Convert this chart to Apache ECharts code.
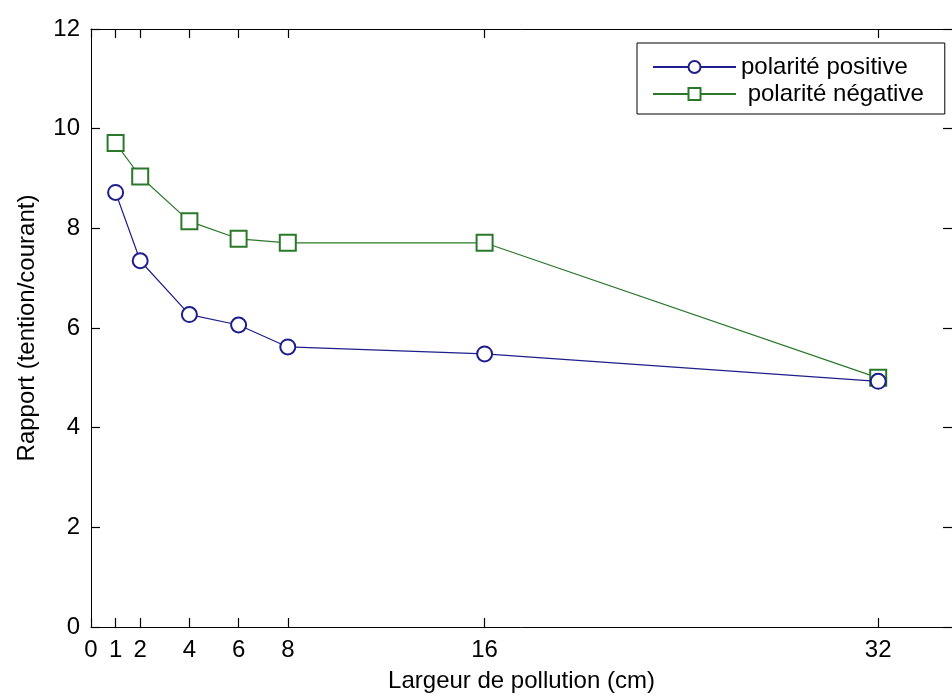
<!DOCTYPE html>
<html>
<head>
<meta charset="utf-8">
<script src="https://cdn.jsdelivr.net/npm/echarts@6/dist/echarts.min.js"></script>
<style>html,body{margin:0;padding:0;background:#fff;}#c{width:952px;height:698px;}</style>
</head>
<body>
<div id="c"></div>
<script>
const xValues = [1, 2, 4, 6, 8, 16, 32];
const positive = [8.72, 7.35, 6.27, 6.06, 5.62, 5.48, 4.93];
const negative = [9.71, 9.04, 8.14, 7.79, 7.71, 7.71, 5.0];
const xTicks = [0, 1, 2, 4, 6, 8, 16, 32];
const seriesNames = ['polarité positive', ' polarité négative'];
const xTitle = 'Largeur de pollution (cm)';
const yTitle = 'Rapport (tention/courant)';

const font = 'Liberation Sans, Arial, sans-serif';
const chart = echarts.init(document.getElementById('c'), null, {renderer: 'canvas'});
function axisLine() { return {show: true, onZero: false, lineStyle: {color: '#000', width: 1}}; }
function tick(custom) {
  const t = {show: true, inside: true, length: 9, lineStyle: {color: '#000', width: 1.2}};
  if (custom) t.customValues = custom.slice();
  return t;
}
chart.setOption({
  backgroundColor: '#fff',
  animation: false,
  textStyle: {fontFamily: font},
  grid: {left: 91, top: 29, width: 865, height: 599, containLabel: false},
  legend: {
    orient: 'vertical', left: 637, top: 43,
    data: seriesNames,
    backgroundColor: '#fff', borderColor: '#000', borderWidth: 1,
    padding: [12, 21, 8, 15], itemGap: 3,
    itemWidth: 83, itemHeight: 15,
    textStyle: {fontFamily: font, fontSize: 24, color: '#000'}
  },
  xAxis: [
    {type: 'value', min: 0, max: 35, position: 'bottom',
     name: xTitle, nameLocation: 'middle', nameGap: 42,
     nameTextStyle: {fontSize: 24, color: '#000', fontFamily: font},
     axisLine: axisLine(), splitLine: {show: false},
     axisTick: tick(xTicks),
     axisLabel: {customValues: xTicks.slice(), fontSize: 24, color: '#000', margin: 11, fontFamily: font}},
    {type: 'value', min: 0, max: 35, position: 'top', show: true,
     axisLine: axisLine(), splitLine: {show: false},
     axisTick: tick(xTicks),
     axisLabel: {show: false, customValues: xTicks.slice()}}
  ],
  yAxis: [
    {type: 'value', min: 0, max: 12, interval: 2, position: 'left',
     name: yTitle, nameLocation: 'middle', nameGap: 52, nameRotate: 90,
     nameTextStyle: {fontSize: 24, color: '#000', fontFamily: font},
     axisLine: axisLine(), splitLine: {show: false}, axisTick: tick(),
     axisLabel: {fontSize: 24, color: '#000', margin: 11, fontFamily: font}},
    {type: 'value', min: 0, max: 12, interval: 2, position: 'right', show: true,
     axisLine: axisLine(), splitLine: {show: false}, axisTick: tick(),
     axisLabel: {show: false}}
  ],
  series: [
    {name: seriesNames[0], type: 'line',
     data: xValues.map((x, i) => [x, positive[i]]),
     symbol: 'emptyCircle', symbolSize: 15,
     lineStyle: {color: '#1e1e8c', width: 1.2},
     itemStyle: {color: '#1e1e8c', borderColor: '#1e1e8c', borderWidth: 1.2},
     z: 3},
    {name: seriesNames[1], type: 'line',
     data: xValues.map((x, i) => [x, negative[i]]),
     symbol: 'emptyRect', symbolSize: 16,
     lineStyle: {color: '#2a782a', width: 1.2},
     itemStyle: {color: '#2a782a', borderColor: '#2a782a', borderWidth: 1.2},
     z: 2},
    {type: 'line', xAxisIndex: 1, yAxisIndex: 1, data: [], silent: true}
  ]
});
</script>
</body>
</html>
